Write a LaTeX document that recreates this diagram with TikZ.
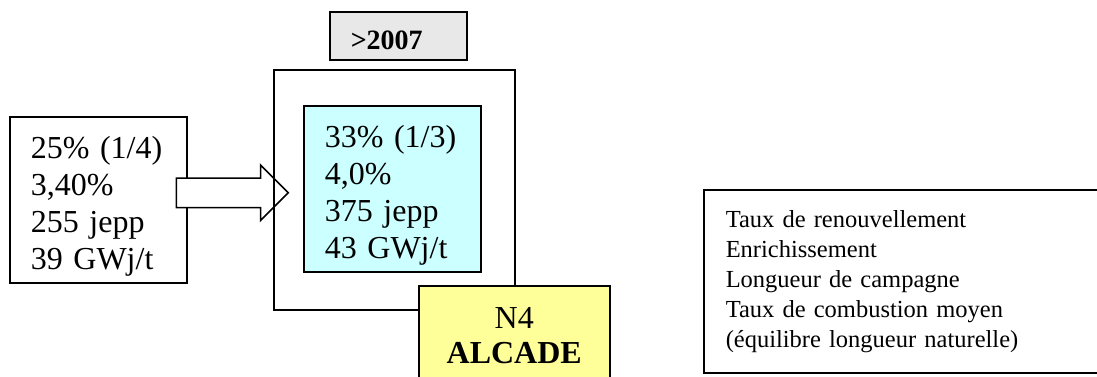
\documentclass[tikz,border=0pt]{standalone}
\usepackage{fontspec}
\setmainfont{Liberation Serif}
\usetikzlibrary{shapes.arrows, positioning, calc, backgrounds}
\definecolor{newcyan}{HTML}{CCFFFF}
\definecolor{plantyellow}{HTML}{FFFF99}
\definecolor{dategray}{HTML}{E8E8E8}

\begin{document}
\begin{tikzpicture}[
    x=1pt, y=-1pt,
    base/.style={draw, rectangle, line width=1.5pt, inner ysep=0pt, anchor=north west},
    databox/.style={base, minimum width=177pt, minimum height=166pt, inner xsep=21pt, text width=135pt, text height=35pt, align=left, font=\fontsize{32}{37}\selectfont},
    legend/.style={base, minimum height=183pt, inner xsep=22pt, text width=380pt, align=left, font=\fontsize{24.5}{30}\selectfont},
    datebox/.style={base, fill=dategray, minimum width=137pt, minimum height=48pt, inner xsep=21pt, text width=95pt, text height=27pt, align=left, font=\fontsize{28}{32}\selectfont\bfseries},
    reactor/.style={base, fill=plantyellow, minimum width=191pt, minimum height=99pt, inner xsep=0pt, text width=191pt, align=center, font=\fontsize{32}{35}\selectfont},
    bigarrow/.style={single arrow, draw, fill=white, line width=1.5pt, minimum height=112pt, inner xsep=0pt, inner ysep=14pt, single arrow head extend=13pt, single arrow head indent=0pt, anchor=tail}
    ]
    \useasboundingbox (0,0) rectangle (1097,376);

    % --- Nouvelle gestion ---
    \node (frame) [base, minimum width=241pt, minimum height=240pt, inner sep=0pt] at (273,69) {};

    % --- Gestion actuelle et fleche (sous le cadre) ---
    \begin{scope}[on background layer]
        \node (params) [databox] at (9,116) {25\% (1/4)\\3,40\%\\255 jepp\\39 GWj/t};
        \node (arrow) [bigarrow] at ($(params.east)+(-12,-7)$) {};
    \end{scope}

    \node (newparams) [databox, fill=newcyan] at (303,105) {33\% (1/3)\\4,0\%\\375 jepp\\43 GWj/t};

    \node (date) [datebox] at (329,11) {>2007};

    \node (plant) [reactor] at (418,285) {N4\\\textbf{ALCADE}};

    % --- Legende ---
    \node (legend) [legend] at (703,189) {
        Taux de renouvellement\\
        Enrichissement\\
        Longueur de campagne\\
        Taux de combustion moyen\\
        (équilibre longueur naturelle)
    };

\end{tikzpicture}
\end{document}
